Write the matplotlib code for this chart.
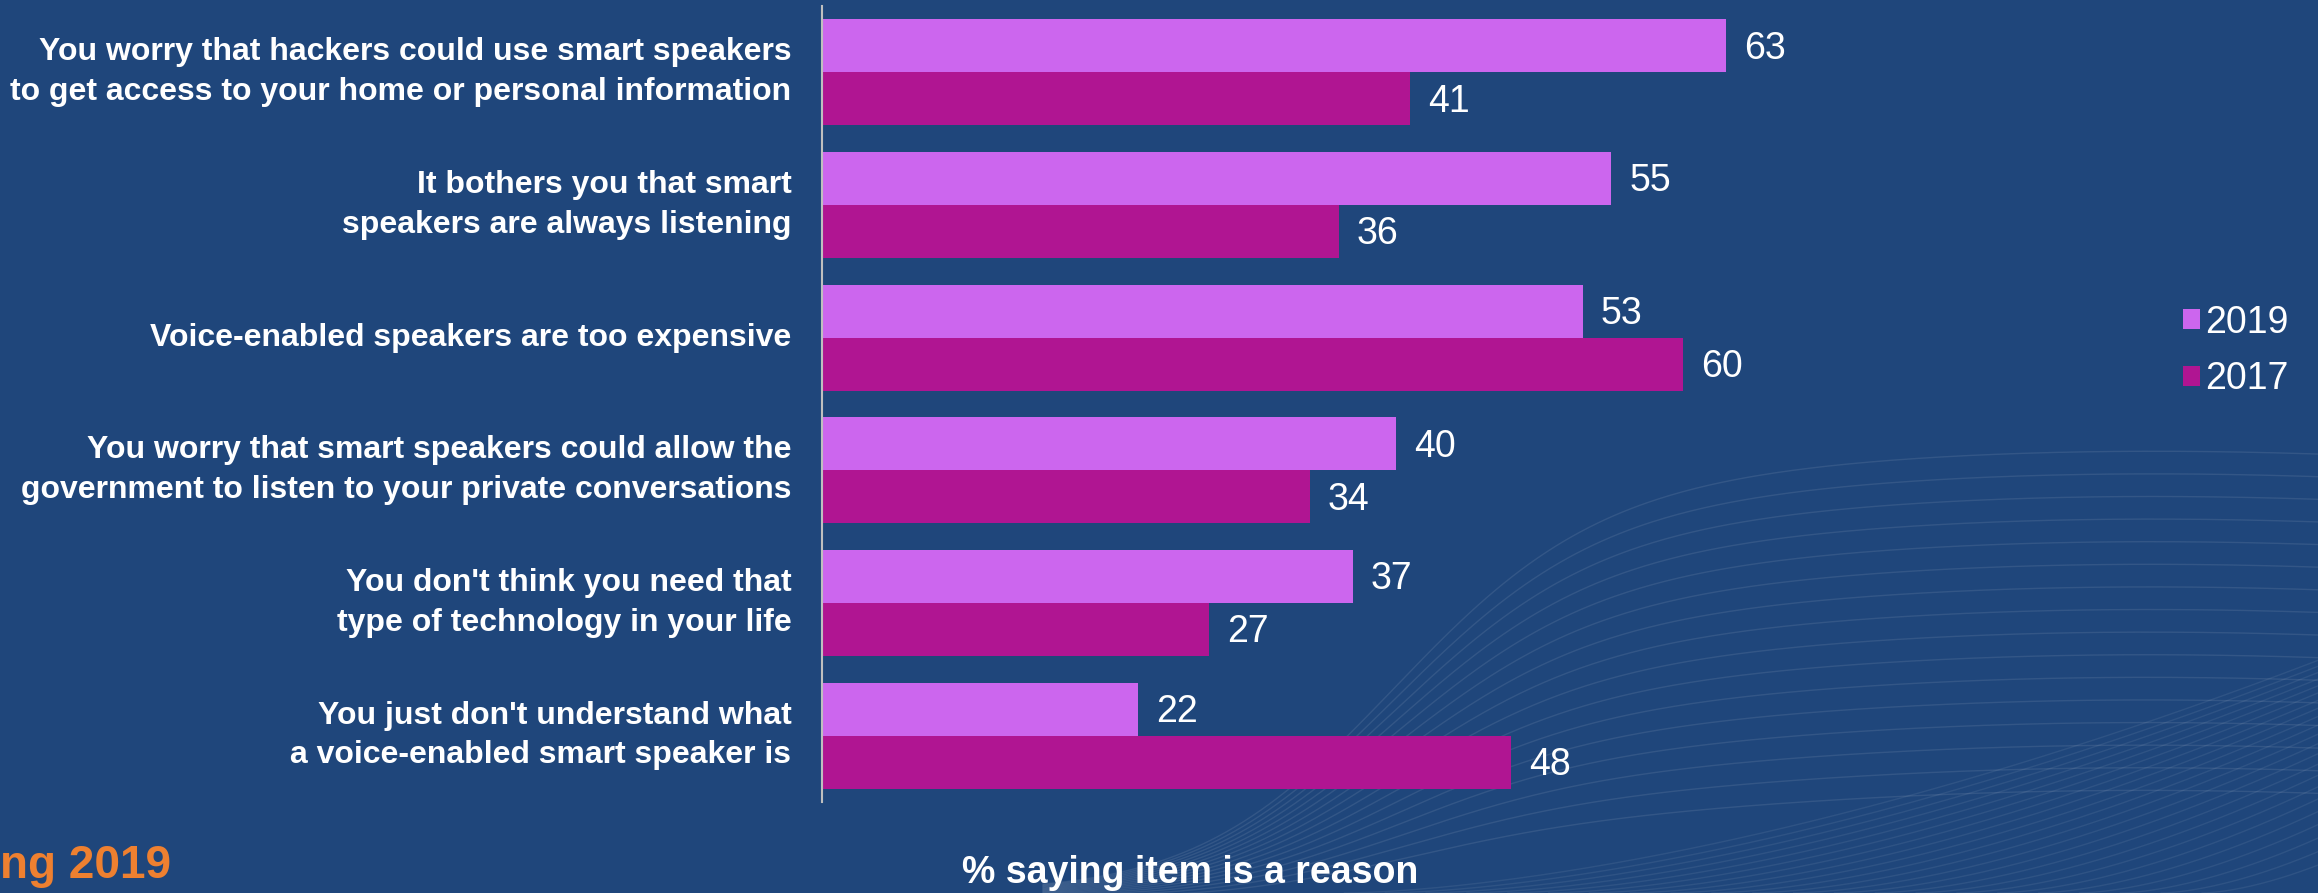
import numpy as np
import matplotlib
matplotlib.use("Agg")
import matplotlib.pyplot as plt

# survey data
categories = [
    "You worry that hackers could use smart speakers\nto get access to your home or personal information",
    "It bothers you that smart\nspeakers are always listening",
    "Voice-enabled speakers are too expensive",
    "You worry that smart speakers could allow the\ngovernment to listen to your private conversations",
    "You don't think you need that\ntype of technology in your life",
    "You just don't understand what\na voice-enabled smart speaker is",
]
v2019 = [63, 55, 53, 40, 37, 22]
v2017 = [41, 36, 60, 34, 27, 48]
years = ["2019", "2017"]

bg = "#1F467B"
c2019 = "#CC66EE"
c2017 = "#B01592"

plt.rcParams['font.family'] = ['Liberation Sans', 'DejaVu Sans']

fig = plt.figure(figsize=(23.18, 8.93), dpi=100)
fig.patch.set_facecolor(bg)

# faint decorative background waves
bgax = fig.add_axes([0, 0, 1, 1], zorder=0)
bgax.set_xlim(0, 1)
bgax.set_ylim(0, 1)
bgax.axis('off')
xx = np.linspace(0.45, 1, 300)
for k in np.linspace(0.10, 0.48, 16):
    yy = k * (0.5 + 0.5 * np.tanh((xx - 0.6) / 0.09)) - 0.015 * np.sin((xx - 0.4) * 9)
    bgax.plot(xx, yy, color='white', alpha=0.09, lw=1)
for xs in np.linspace(0.58, 0.95, 22):
    xf = np.linspace(xs, 1, 200)
    yf = 0.55 * ((xf - xs) / (1 - xs + 0.25)) ** 1.6
    bgax.plot(xf, yf, color='white', alpha=0.07, lw=1)

ax = fig.add_axes([0.3546, 0.1019, 0.4334, 0.8914], zorder=1)
ax.set_facecolor('none')

y = np.arange(len(categories))
h = 0.4
b1 = ax.barh(y - h / 2, v2019, height=h, color=c2019, label=years[0])
b2 = ax.barh(y + h / 2, v2017, height=h, color=c2017, label=years[1])

for bars in (b1, b2):
    for bar in bars:
        w = bar.get_width()
        ax.annotate(str(int(w)), (w, bar.get_y() + bar.get_height() / 2),
                    xytext=(13, -2), textcoords='offset points',
                    va='center', ha='left', fontsize=27, color='white')

ax.set_xlim(0, 70)
ax.set_ylim(len(categories) - 0.5, -0.5)
ax.set_yticks(y)
ax.set_yticklabels(categories, fontsize=23, fontweight='bold', color='white',
                   linespacing=1.42, va='center')
ax.tick_params(axis='y', length=0, pad=22)
ax.set_xticks([])
for s in ['top', 'right', 'bottom']:
    ax.spines[s].set_visible(False)
ax.spines['left'].set_color('#BFBFBF')
ax.spines['left'].set_linewidth(1.5)

leg = ax.legend(loc='center left', bbox_to_anchor=(2183 / 2318, 0.607),
                bbox_transform=fig.transFigure, frameon=False, fontsize=27,
                handlelength=0.45, handleheight=0.45, handletextpad=0.15,
                labelspacing=0.55, borderpad=0, borderaxespad=0)
for t in leg.get_texts():
    t.set_color('white')

fig.text(1190 / 2318, 1 - 873 / 893, "% saying item is a reason", ha='center',
         va='center', fontsize=27, fontweight='bold', color='white')
fig.text(0, 1 - 866 / 893, "ng 2019", ha='left', va='center', fontsize=33,
         fontweight='bold', color='#EE8030')

fig.savefig("out.png", dpi=100, facecolor=bg)
